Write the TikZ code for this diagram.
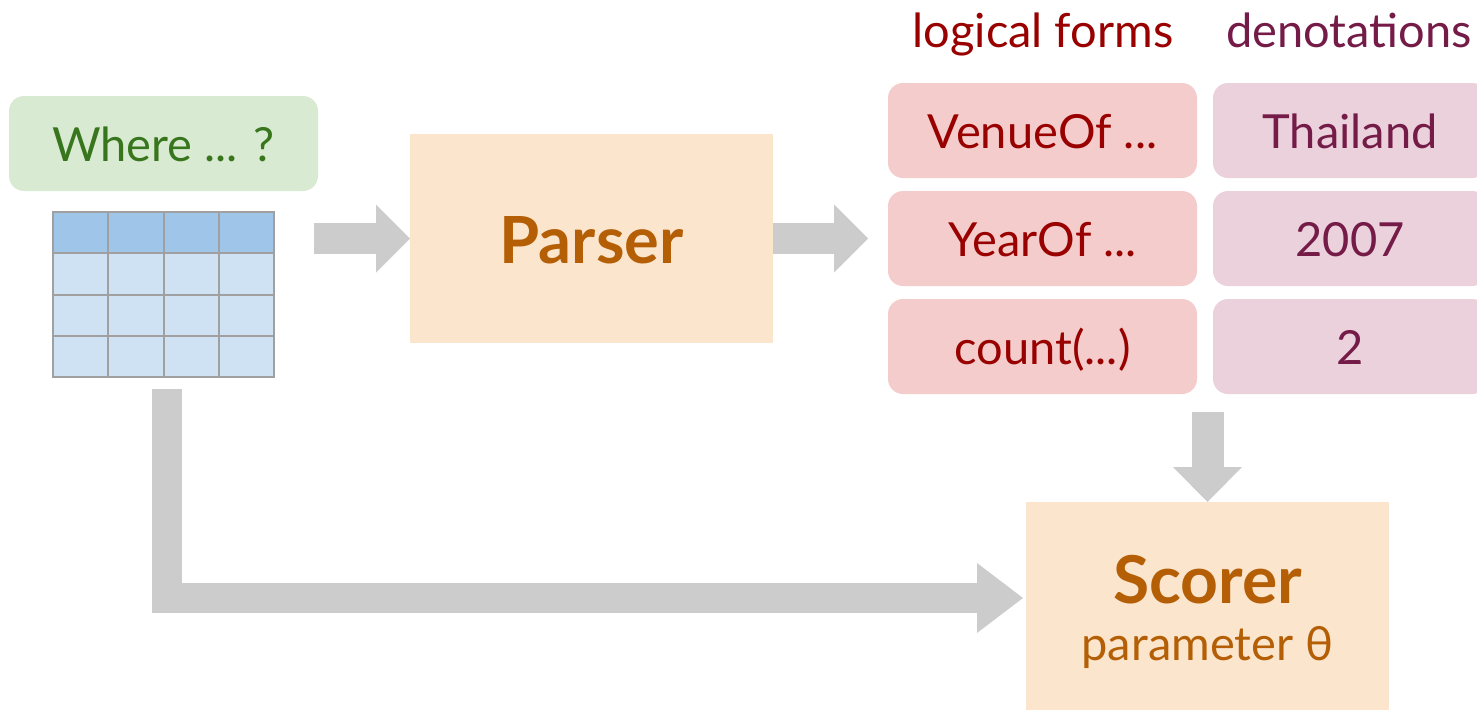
\documentclass[tikz,border=0pt]{standalone}
\usepackage{fontspec}
\setmainfont{Lato}
\usetikzlibrary{arrows.meta,calc}

\definecolor{qfill}{HTML}{D9EAD3}
\definecolor{qtext}{HTML}{38761D}
\definecolor{thead}{HTML}{9FC5E8}
\definecolor{tbody}{HTML}{CFE2F3}
\definecolor{tline}{HTML}{A0A0A0}
\definecolor{flow}{HTML}{CCCCCC}
\definecolor{modfill}{HTML}{FCE5CD}
\definecolor{modtext}{HTML}{B45F06}
\definecolor{lffill}{HTML}{F4CCCC}
\definecolor{lftext}{HTML}{990000}
\definecolor{dnfill}{HTML}{EAD1DC}
\definecolor{dntext}{HTML}{741B47}

\begin{document}
\begin{tikzpicture}[x=1pt,y=-1pt,
  box/.style={anchor=north west, inner sep=0pt, outer sep=0pt},
  bigfont/.style={font=\fontsize{47}{56}\selectfont},
  pill/.style={box, rounded corners=15pt, minimum height=95pt,
    text height=35pt, text depth=0pt, bigfont},
  lfbox/.style={pill, fill=lffill, text=lftext, minimum width=309pt},
  dnbox/.style={pill, fill=dnfill, text=dntext, minimum width=274pt},
  module/.style={box, fill=modfill, text=modtext,
    minimum width=363pt, minimum height=208pt},
  flowarrow/.style={draw=flow, line width=31pt,
    -{Triangle[length=34pt,width=68pt,line width=0pt]}},
  heading/.style={anchor=base, bigfont},
]
\useasboundingbox (0,0) rectangle (1477,710);
\clip (0,0) rectangle (1477,710);

% question
\node[pill, fill=qfill, text=qtext, minimum width=309pt] (question) at (9,96) {Where ... ?};

% table
\node[box, fill=tbody, minimum width=221pt, minimum height=165pt] (table) at (53,212) {};
\fill[thead] (53,212) rectangle (274,253.25);
\foreach \c in {0,...,4}
  \draw[tline, line width=2pt] (53+55.25*\c,212) -- (53+55.25*\c,377);
\foreach \r in {0,...,4}
  \draw[tline, line width=2pt] (52,212+41.25*\r) -- (275,212+41.25*\r);

% parser
\node[module, minimum height=209pt, text height=49pt, text depth=0pt,
  font=\fontsize{65}{78}\selectfont\bfseries] (parser) at (410,134) {Parser};

% candidate logical forms and their denotations
\node[heading, text=lftext] (lfhead) at (1043,47) {logical forms};
\node[heading, text=dntext] (dnhead) at (1349,47) {denotations};

\node[lfbox] (lf1) at (888,83)  {VenueOf ...};
\node[lfbox] (lf2) at (888,191) {YearOf ...};
\node[lfbox] (lf3) at (888,299) {count(...)};
\node[dnbox] (dn1) at (1213,83)  {Thailand};
\node[dnbox] (dn2) at (1213,191) {2007};
\node[dnbox] (dn3) at (1213,299) {2};

% scorer
\node[module] (scorer) at (1026,502) {};
\node[anchor=base, text=modtext, font=\fontsize{66}{79}\selectfont\bfseries]
  (scorertitle) at (1207.5,603) {Scorer};
\node[anchor=base, text=modtext, font=\fontsize{47}{56}\selectfont]
  (scorerparam) at (1207.5,660) {parameter θ};

% flow arrows
\draw[flowarrow] ($(parser.west)+(-96,0)$) -- (parser.west);
\draw[flowarrow, shorten >=20pt] (parser.east) -- (lf2.west);
\draw[flowarrow, line width=32pt,
  -{Triangle[length=35pt,width=69pt,line width=0pt]}, shorten <=18pt]
  (scorer.north |- lf3.south) -- (scorer.north);
\coordinate (ltail) at (167,389);
\draw[flowarrow, line width=30pt,
  -{Triangle[length=46pt,width=70pt,line width=0pt]}, shorten >=3pt]
  (ltail) |- ($(scorer.west)+(0,-8)$);
\end{tikzpicture}
\end{document}
